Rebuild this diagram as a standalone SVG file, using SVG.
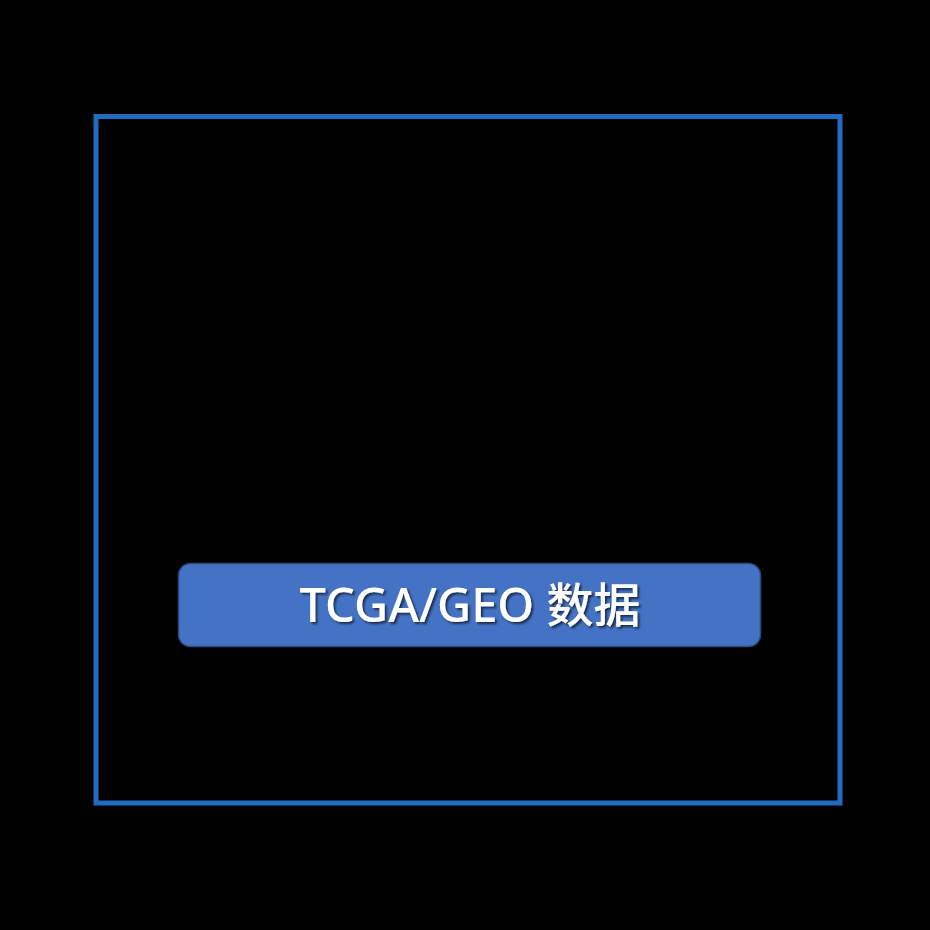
<svg xmlns="http://www.w3.org/2000/svg" width="930" height="930" viewBox="0 0 930 930">
<defs>
<style>
.frame{fill:none;stroke:#1f6cc0;stroke-width:5}
.box{fill:#4472c4;stroke:#2c4a7e;stroke-width:1.5}
.lbl{font-family:"Noto Sans","Noto Sans CJK SC",sans-serif;font-size:47px;font-weight:500;fill:#ffffff;text-anchor:middle}
</style>
<filter id="sh" x="-10%" y="-30%" width="120%" height="160%">
<feDropShadow dx="2" dy="2" stdDeviation="1.2" flood-color="#000000" flood-opacity="0.6"/>
</filter>
</defs>
<rect width="930" height="930" fill="#000000"/>
<g id="frame"><rect class="frame" x="96" y="116.5" width="744" height="686.5"/></g>
<g id="connectors"></g>
<g id="node-data">
<rect class="box" x="178.5" y="563.5" width="582" height="83" rx="12"/>
<text class="lbl" x="470" y="622" filter="url(#sh)">TCGA/GEO 数据</text>
</g>
</svg>
